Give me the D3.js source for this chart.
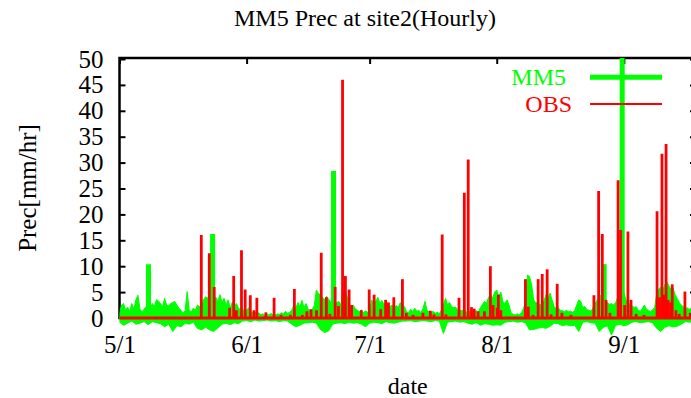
<!DOCTYPE html>
<html>
<head>
<meta charset="utf-8">
<script src="https://cdn.jsdelivr.net/npm/d3@7"></script>
<style>
  html, body { margin: 0; padding: 0; background: #fff; }
  svg { display: block; }
  svg text { font-family: "Liberation Serif", "Times New Roman", Times, "DejaVu Serif", serif; }
</style>
</head>
<body>
<svg id="chart" width="691" height="398"></svg>
<script>
/* MM5 vs OBS hourly precipitation, site2 */

// day offsets are counted from 5/1 00:00
const START = Date.UTC(2000, 4, 1);
const LAST_DAY = 140.6;
const FONT = '"Liberation Serif", "Times New Roman", Times, serif';

const monthTicks = ['2000-05-01', '2000-06-01', '2000-07-01', '2000-08-01', '2000-09-01'];
const yTicks = [0, 5, 10, 15, 20, 25, 30, 35, 40, 45, 50];

// MM5 upper envelope, one value every 12 h from 5/1
const mm5Hi = [
  0.9, 2.5, 2.8, 1.5, 2.1, 1.2, 2.8, 1.7, 3.5, 4.4,
  1.7, 1.2, 1.7, 2.2, 1.5, 1.9, 2.8, 2.2, 3.5, 3.3,
  2.8, 2.1, 3.8, 2.5, 2.3, 2.8, 3.0, 3.2, 2.5, 1.9,
  1.5, 0.9, 1.4, 5.1, 1.5, 1.2, 1.9, 1.5, 2.5, 2.2,
  2.2, 3.5, 4.1, 3.8, 4.8, 3.0, 3.8, 4.0, 3.2, 4.5,
  3.0, 3.8, 2.5, 3.5, 2.0, 3.0, 2.2, 2.8, 2.0, 1.5,
  1.8, 1.2, 1.5, 2.0, 1.3, 1.0, 1.2, 0.8, 1.0, 0.6,
  0.8, 0.5, 0.7, 0.6, 0.9, 0.5, 0.6, 0.8, 0.7, 1.0,
  0.8, 1.3, 0.9, 1.1, 1.5, 2.5, 1.8, 3.0, 2.2, 3.4,
  2.0, 2.8, 1.8, 1.3, 1.6, 2.4, 5.4, 4.8, 4.4, 4.0,
  3.5, 4.2, 3.6, 3.0, 3.5, 2.8, 3.0, 3.2, 2.5, 5.6,
  5.0, 4.2, 2.8, 2.2, 2.5, 1.8, 1.5, 1.2, 1.6, 1.0,
  1.4, 1.1, 1.3, 3.5, 2.4, 3.2, 4.0, 2.8, 3.4, 2.6,
  3.0, 2.6, 2.2, 2.5, 1.9, 2.4, 2.0, 3.0, 2.5, 2.2,
  1.2, 1.0, 1.7, 1.2, 1.9, 1.3, 1.5, 1.0, 1.8, 3.2,
  1.5, 1.2, 1.0, 1.3, 0.9, 1.1, 0.8, 1.5, 2.5, 3.8,
  2.6, 3.0, 2.2, 2.0, 2.1, 1.5, 1.6, 1.4, 1.8, 1.2,
  1.0, 1.3, 1.0, 1.2, 1.4, 1.1, 2.0, 2.6, 3.2, 2.8,
  4.0, 4.6, 3.8, 5.0, 5.4, 4.2, 5.0, 3.2, 2.8, 3.5,
  2.5, 1.0, 0.7, 0.6, 0.8, 0.6, 1.0, 1.8, 3.0, 8.3,
  8.0, 6.5, 3.5, 3.0, 2.8, 2.5, 2.9, 3.2, 4.5, 3.8,
  4.8, 3.5, 2.2, 1.8, 2.0, 1.5, 1.4, 1.2, 1.5, 1.2,
  1.3, 1.1, 1.4, 2.5, 3.5, 3.2, 2.0, 2.2, 1.6, 1.5,
  1.3, 2.0, 2.8, 3.5, 4.0, 4.5, 4.0, 3.5, 3.0, 2.6,
  2.8, 2.5, 3.0, 4.0, 10.0, 8.0, 5.0, 3.5, 3.0, 2.6,
  2.4, 2.0, 2.2, 1.5, 1.3, 1.8, 2.5, 1.7, 1.5, 1.2,
  1.6, 2.0, 4.5, 5.5, 6.0, 5.2, 6.5, 7.0, 6.2, 5.5,
  5.8, 4.5, 3.8, 3.0, 2.5, 2.2, 1.8, 2.0, 1.6, 2.0,
  1.8, 2.0
];

// MM5 lower envelope (negative values), one per day
const mm5Lo = [
  -0.8, -1.4, -1.0, -0.6, -1.2, -1.0, -0.7, -1.3, -0.7, -0.9,
  -1.1, -1.7, -1.2, -2.6, -1.5, -1.7, -1.0, -1.2, -0.8, -2.0,
  -2.3, -1.8, -2.3, -2.6, -1.9, -1.2, -1.0, -1.3, -0.9, -1.1,
  -0.6, -0.5, -0.7, -0.4, -0.6, -0.5, -0.4, -0.6, -0.5, -0.7,
  -0.5, -0.6, -1.2, -1.7, -1.4, -1.0, -0.9, -0.8, -1.0, -2.2,
  -2.8, -2.5, -1.2, -1.0, -0.9, -1.1, -0.8, -1.0, -0.9, -1.2,
  -1.7, -1.0, -0.8, -0.9, -1.1, -0.7, -0.9, -1.0, -0.8, -0.6,
  -0.6, -0.5, -0.7, -0.6, -0.5, -0.6, -0.7, -0.5, -0.6, -3.0,
  -0.8, -0.7, -0.6, -0.8, -0.7, -1.0, -1.2, -0.9, -1.4, -1.1,
  -1.2, -1.4, -1.3, -1.4, -0.8, -0.7, -0.6, -0.8, -0.7, -0.9,
  -2.3, -2.2, -2.0, -1.8, -2.0, -1.6, -1.0, -1.1, -1.5, -1.3,
  -1.5, -1.4, -2.6, -0.8, -0.7, -0.9, -1.0, -2.6, -1.8, -1.5,
  -3.3, -1.4, -1.2, -1.5, -1.3, -0.8, -0.7, -0.9, -0.8, -0.7,
  -0.9, -2.0, -2.6, -1.8, -1.5, -1.7, -1.6, -1.2, -0.7, -0.8,
  -0.7
];

// isolated MM5 peaks [day, mm/hr]
const mm5Peaks = [
  [7.07, 10.4], [22.7, 16.2], [52.2, 28.4], [118.2, 10.4], [122.6, 60]
];

// OBS hourly peaks [day, mm/hr]
const obsPeaks = [
  [19.95, 16.0], [21.9, 12.5], [23.1, 6.0], [26.85, 2.0], [27.85, 8.1],
  [28.5, 1.5], [29.75, 13.1], [30.65, 5.5], [31.9, 4.4], [32.8, 1.5],
  [33.5, 3.9], [35.7, 1.1], [37.7, 3.9], [39.4, 0.6], [41.7, 0.6],
  [42.65, 5.6], [44.6, 0.6], [45.7, 1.3], [46.7, 1.7], [48.05, 1.5],
  [49.2, 12.6], [50.45, 4.0], [51.3, 0.8], [52.6, 6.0], [53.4, 2.3],
  [54.4, 46.0], [55.1, 8.1], [56.0, 5.5], [56.6, 2.5], [58.95, 1.5],
  [60.9, 5.5], [62.1, 4.5], [63.7, 1.7], [64.9, 3.5], [65.6, 3.0],
  [66.9, 4.0], [69.0, 7.5], [69.95, 1.0], [71.6, 0.6], [74.0, 1.0],
  [75.8, 1.4], [76.7, 0.7], [78.7, 16.1], [79.6, 0.7], [82.8, 3.9],
  [84.1, 24.2], [85.05, 30.6], [85.85, 2.1], [86.5, 1.8], [87.45, 1.3],
  [89.0, 1.3], [90.45, 10.0], [91.1, 2.5], [92.1, 2.0], [92.4, 4.5],
  [93.0, 1.5], [99.0, 7.5], [99.7, 2.2], [100.85, 0.6], [102.1, 7.5],
  [103.1, 8.5], [104.3, 9.4], [105.25, 0.7], [106.75, 6.6], [107.9, 1.0],
  [110.1, 0.6], [115.7, 4.4], [116.85, 24.5], [117.75, 16.2], [118.65, 3.5],
  [119.6, 1.0], [121.6, 26.6], [122.2, 17.0], [123.2, 2.5], [124.0, 16.7],
  [124.75, 3.5], [126.0, 0.8], [127.9, 0.6], [131.1, 20.6], [131.7, 4.0],
  [132.3, 31.7], [132.8, 4.5], [133.3, 33.6], [133.8, 3.5], [134.4, 3.0],
  [134.8, 6.5], [135.7, 1.5], [136.5, 0.8], [137.9, 5.1], [139.2, 1.0]
];

const GREEN = '#00ff00';
const RED = '#ff0000';

const toDate = (d) => new Date(START + d * 864e5);

const svg = d3.select('#chart');
const plot = { left: 119.5, right: 696, top: 58, bottom: 318 };

const x = d3.scaleUtc()
  .domain([toDate(0), toDate(LAST_DAY)])
  .range([plot.left, plot.right]);

const y = d3.scaleLinear()
  .domain([0, 50])
  .range([plot.bottom, plot.top + 1]);

const tickDates = monthTicks.map(s => new Date(s + 'T00:00:00Z'));
const fmtTick = d3.utcFormat('%-m/%-d');

svg.append('defs').append('clipPath').attr('id', 'clip')
  .append('rect')
  .attr('x', plot.left).attr('y', plot.top)
  .attr('width', plot.right - plot.left).attr('height', 398 - plot.top);

// frame + inward ticks
svg.append('rect')
  .attr('x', plot.left).attr('y', plot.top)
  .attr('width', plot.right - plot.left).attr('height', plot.bottom - plot.top)
  .attr('fill', 'none').attr('stroke', '#000').attr('stroke-width', 2.5);

const styleAxis = (g) => {
  g.attr('font-family', FONT).attr('font-size', 25);
  g.select('.domain').remove();
  g.selectAll('.tick line').attr('stroke', '#000').attr('stroke-width', 2);
  g.selectAll('.tick text').attr('fill', '#000');
};

svg.append('g')
  .attr('transform', `translate(${plot.left},0)`)
  .call(d3.axisLeft(y).tickValues(yTicks).tickSizeInner(-6).tickSizeOuter(0).tickPadding(16))
  .call(styleAxis);

svg.append('g')
  .attr('transform', `translate(${plot.right},0)`)
  .call(d3.axisRight(y).tickValues(yTicks).tickSizeInner(-6).tickSizeOuter(0).tickFormat(''))
  .call(styleAxis);

svg.append('g')
  .attr('transform', `translate(0,${plot.top})`)
  .call(d3.axisTop(x).tickValues(tickDates).tickSizeInner(-6).tickSizeOuter(0).tickFormat(''))
  .call(styleAxis);

svg.append('g')
  .attr('transform', `translate(0,${plot.bottom})`)
  .call(d3.axisBottom(x).tickValues(tickDates).tickSizeInner(-6).tickSizeOuter(0)
    .tickPadding(17).tickFormat(fmtTick))
  .call(styleAxis);

const label = (sel) => sel.attr('font-family', FONT).attr('font-size', 24);

// legend + series, gnuplot order: key sample then its data
const keyX1 = 590, keyX2 = 662;
const keyY = [y(46.5), y(41.3)];

svg.append('text').call(label)
  .attr('x', 566).attr('y', keyY[0]).attr('dy', '0.33em')
  .attr('text-anchor', 'end').attr('fill', GREEN)
  .text('MM5');
svg.append('line')
  .attr('x1', keyX1).attr('x2', keyX2).attr('y1', keyY[0]).attr('y2', keyY[0])
  .attr('stroke', GREEN).attr('stroke-width', 5);

const data = svg.append('g').attr('clip-path', 'url(#clip)');

const hiPts = mm5Hi.map((v, i) => [i * 0.5, v]);
const loPts = mm5Lo.map((v, i) => [i, v]);

const area = d3.area()
  .x(d => x(toDate(d[0])))
  .y0(y(0))
  .y1(d => y(d[1]));

data.append('path').datum(hiPts)
  .attr('d', area).attr('fill', GREEN)
  .attr('stroke', GREEN).attr('stroke-width', 1);
data.append('path').datum(loPts)
  .attr('d', area).attr('fill', GREEN)
  .attr('stroke', GREEN).attr('stroke-width', 1);

data.selectAll('line.mm5').data(mm5Peaks).join('line')
  .attr('class', 'mm5')
  .attr('x1', d => x(toDate(d[0]))).attr('x2', d => x(toDate(d[0])))
  .attr('y1', y(0)).attr('y2', d => y(d[1]))
  .attr('stroke', GREEN).attr('stroke-width', 5);

svg.append('text').call(label)
  .attr('x', 572).attr('y', keyY[1]).attr('dy', '0.33em')
  .attr('text-anchor', 'end').attr('fill', RED)
  .text('OBS');
svg.append('line')
  .attr('x1', keyX1).attr('x2', keyX2).attr('y1', keyY[1]).attr('y2', keyY[1])
  .attr('stroke', RED).attr('stroke-width', 2);

data.append('line')
  .attr('x1', x(toDate(0))).attr('x2', x(toDate(LAST_DAY)))
  .attr('y1', y(0)).attr('y2', y(0))
  .attr('stroke', RED).attr('stroke-width', 2.8);

data.selectAll('line.obs').data(obsPeaks).join('line')
  .attr('class', 'obs')
  .attr('x1', d => x(toDate(d[0]))).attr('x2', d => x(toDate(d[0])))
  .attr('y1', y(0)).attr('y2', d => y(d[1]))
  .attr('stroke', RED).attr('stroke-width', 2.8);

// titles
svg.append('text').call(label)
  .attr('x', 365).attr('y', 26)
  .attr('text-anchor', 'middle')
  .text('MM5 Prec at site2(Hourly)');

svg.append('text').call(label)
  .attr('x', (plot.left + plot.right) / 2).attr('y', 394)
  .attr('text-anchor', 'middle')
  .text('date');

svg.append('text').call(label)
  .attr('font-size', 25)
  .attr('transform', `translate(36,${(plot.top + plot.bottom) / 2}) rotate(-90)`)
  .attr('text-anchor', 'middle')
  .text('Prec[mm/hr]');
</script>
</body>
</html>
